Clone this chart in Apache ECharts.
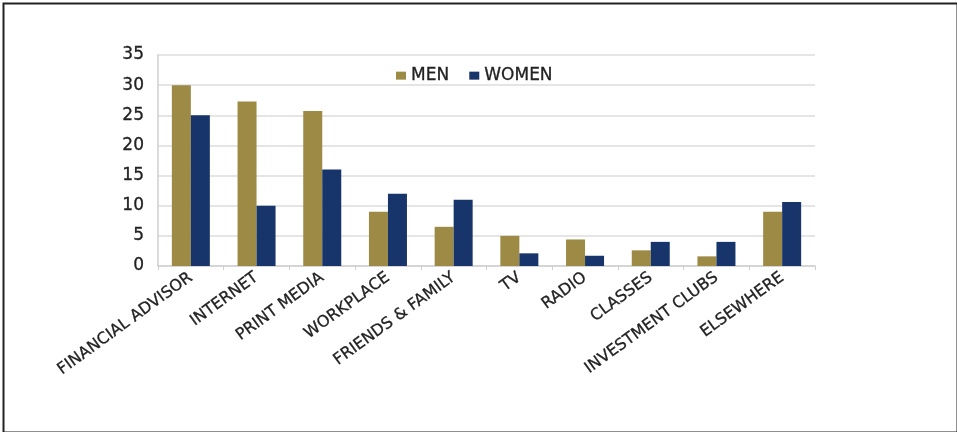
<!DOCTYPE html>
<html>
<head>
<meta charset="utf-8">
<script src="https://cdn.jsdelivr.net/npm/echarts@6/dist/echarts.min.js"></script>
<style>html,body{margin:0;padding:0;background:#fff;}#c{width:957px;height:432px;}</style>
</head>
<body>
<div id="c"></div>
<script>
var categories = ["FINANCIAL ADVISOR","INTERNET","PRINT MEDIA","WORKPLACE","FRIENDS & FAMILY","TV","RADIO","CLASSES","INVESTMENT CLUBS","ELSEWHERE"];
var men = [30, 27.3, 25.7, 9, 6.5, 5, 4.4, 2.6, 1.6, 9];
var women = [25, 10, 16, 12, 11, 2.1, 1.7, 4, 4, 10.6];
var yTicks = [0, 5, 10, 15, 20, 25, 30, 35];

var chart = echarts.init(document.getElementById('c'));
chart.setOption({
  animation: false,
  textStyle: { fontFamily: 'DejaVu Sans, sans-serif' },
  graphic: [{
    type: 'rect', left: 1, top: 1,
    shape: { width: 954, height: 429 },
    style: { fill: 'none', stroke: '#222', lineWidth: 2 }
  }],
  legend: {
    left: 391, top: 62,
    itemWidth: 10, itemHeight: 8, itemGap: 20,
    icon: 'rect',
    textStyle: { fontSize: 17, color: '#222', textBorderColor: '#222', textBorderWidth: 0.3 },
    data: ['MEN', 'WOMEN']
  },
  grid: { left: 158, right: 142, top: 55, bottom: 166, containLabel: false },
  xAxis: {
    type: 'category', data: categories,
    axisLine: { lineStyle: { color: '#cfcfcf', width: 1.5 } },
    axisTick: { show: true, length: 4, lineStyle: { color: '#cfcfcf' } },
    axisLabel: { rotate: 36, fontSize: 16, color: '#222', margin: 10, interval: 0,
      textBorderColor: '#222', textBorderWidth: 0.3 }
  },
  yAxis: {
    type: 'value', min: yTicks[0], max: yTicks[yTicks.length - 1], interval: 5,
    axisLine: { show: true, lineStyle: { color: '#cfcfcf', width: 1.5 } },
    axisTick: { show: false },
    splitLine: { lineStyle: { color: '#dcdcdc', width: 1.5 } },
    axisLabel: { fontSize: 17, color: '#222', margin: 14, textBorderColor: '#222', textBorderWidth: 0.3 }
  },
  series: [
    { name: 'MEN', type: 'bar', data: men, barWidth: 19, barGap: '0%',
      itemStyle: { color: '#9D8A45' } },
    { name: 'WOMEN', type: 'bar', data: women, barWidth: 19,
      itemStyle: { color: '#17346B' } }
  ]
});
</script>
</body>
</html>
